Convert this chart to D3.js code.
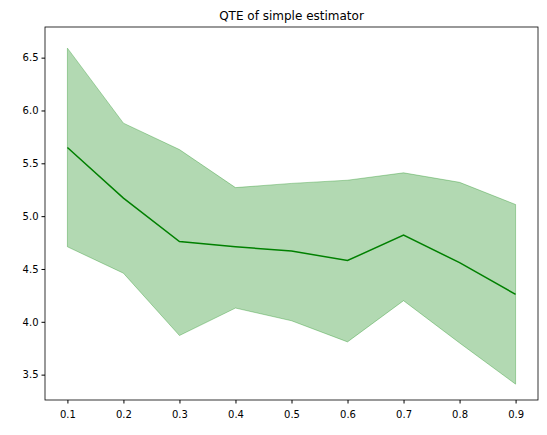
<!DOCTYPE html>
<html><head><meta charset="utf-8">
<script src="https://cdn.jsdelivr.net/npm/d3@7"></script>
<style>body{margin:0;background:#fff;font-family:"DejaVu Sans",sans-serif;}</style>
</head><body>
<script>
var quantiles = [0.1, 0.2, 0.3, 0.4, 0.5, 0.6, 0.7, 0.8, 0.9];
var qte = [5.65, 5.17, 4.76, 4.71, 4.67, 4.58, 4.82, 4.56, 4.26];
var upper = [6.59, 5.88, 5.63, 5.27, 5.31, 5.34, 5.41, 5.32, 5.11];
var lower = [4.71, 4.46, 3.87, 4.13, 4.01, 3.81, 4.20, 3.80, 3.41];
var yTicks = [3.5, 4.0, 4.5, 5.0, 5.5, 6.0, 6.5];

var width = 547, height = 435;
var mLeft = 45, mRight = 538, mTop = 27, mBottom = 400;

var svg = d3.select("body").append("svg")
    .attr("width", width).attr("height", height);

var x = d3.scaleLinear().domain([0.06, 0.94]).range([mLeft, mRight]);
var y = d3.scaleLinear().domain([3.26, 6.79]).range([mBottom, mTop]);

//band
var area = d3.area()
    .x(function(d, i) { return x(quantiles[i]); })
    .y0(function(d, i) { return y(lower[i]); })
    .y1(function(d, i) { return y(upper[i]); });
svg.append("path").datum(qte).attr("d", area)
    .attr("fill", "green").attr("fill-opacity", 0.3)
    .attr("stroke", "green").attr("stroke-opacity", 0.3);

//line
var line = d3.line()
    .x(function(d, i) { return x(quantiles[i]); })
    .y(function(d) { return y(d); });
svg.append("path").datum(qte).attr("d", line)
    .attr("fill", "none").attr("stroke", "green").attr("stroke-width", 1.5);

//axes
var xAxis = svg.append("g").attr("transform", "translate(0," + mBottom + ")")
    .call(d3.axisBottom(x).tickValues(quantiles).tickFormat(d3.format(".1f")).tickSizeOuter(0).tickSize(3.5));
var yAxis = svg.append("g").attr("transform", "translate(" + mLeft + ",0)")
    .call(d3.axisLeft(y).tickValues(yTicks).tickFormat(d3.format(".1f")).tickSizeOuter(0).tickSize(3.5));
[xAxis, yAxis].forEach(function(a) {
  a.selectAll("text").attr("font-family", "DejaVu Sans").attr("font-size", 10).attr("fill", "#000");
  a.selectAll("line").attr("stroke", "#000");
  a.select(".domain").remove();
});
xAxis.selectAll("text").attr("dy", "1.1em");

svg.append("rect").attr("x", mLeft).attr("y", mTop)
    .attr("width", mRight - mLeft).attr("height", mBottom - mTop)
    .attr("fill", "none").attr("stroke", "#000").attr("stroke-width", 0.8);

svg.append("text").attr("x", (mLeft + mRight) / 2).attr("y", mTop - 7)
    .attr("text-anchor", "middle").attr("font-size", 12)
    .text("QTE of simple estimator");
</script>
</body></html>
